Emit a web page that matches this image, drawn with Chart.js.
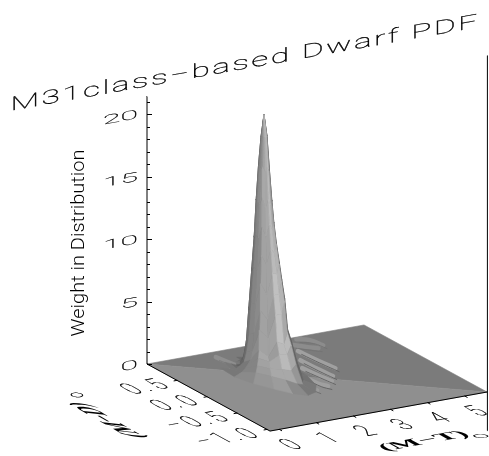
<!DOCTYPE html>
<html>
<head>
<meta charset="utf-8">
<title>M31class-based Dwarf PDF</title>
<script src="https://cdn.jsdelivr.net/npm/chart.js@4"></script>
<style>
  html, body { margin: 0; padding: 0; background: #fff; }
  canvas { display: block; }
</style>
</head>
<body>
<canvas id="surface" width="489" height="456"></canvas>
<script>
// Text labels
var titleText = "M31class\u2212based Dwarf PDF";
var weightTitle = "Weight in Distribution";
var weightTicks = [0, 5, 10, 15, 20];
var weightMinor = [1, 2, 3, 4, 6, 7, 8, 9, 11, 12, 13, 14, 16, 17, 18, 19, 21];
var mtTicks = [0, 1, 2, 3, 4, 5];
var mdTicks = [0.5, 0.0, -0.5, -1.0];
var mdLabels = ["0.5", "0.0", "\u22120.5", "\u22121.0"];

// Floor of the box, in data units
var mtRange = [-0.25, 5.6];
var mdRange = [-1.05, 1.0];
var weightRange = [0, 21.4];

// Main peak, read as rings around its centre
var peakCentre = [1.82, 0.33];
var ringMT = [0, 0.045, 0.083, 0.12, 0.15, 0.188, 0.233, 0.27, 0.315, 0.36, 0.42, 0.495, 0.6, 0.795];
var ringMD = [0, 0.041, 0.076, 0.11, 0.138, 0.173, 0.214, 0.248, 0.29, 0.331, 0.386, 0.455, 0.552, 0.731];
var spokeMT = [1, 0.92, 0.71, 0.38, 0, -0.38, -0.71, -0.92, -1, -0.92, -0.71, -0.38, 0, 0.38, 0.71, 0.92];
var spokeMD = [0, -0.38, -0.71, -0.92, -1, -0.92, -0.71, -0.38, 0, 0.38, 0.71, 0.92, 1, 0.92, 0.71, 0.38];
var peakWeights = [
  [20.6, 20.6, 20.6, 20.6, 20.6, 20.6, 20.6, 20.6, 20.6, 20.6, 20.6, 20.6, 20.6, 20.6, 20.6, 20.6],
  [18.9, 19.0, 19.0, 19.0, 19.0, 18.9, 18.9, 18.9, 18.9, 18.8, 18.8, 18.8, 18.8, 18.9, 18.9, 18.9],
  [16.4, 16.3, 16.3, 16.3, 16.4, 16.6, 16.2, 16.6, 16.3, 16.5, 16.5, 16.5, 16.5, 16.4, 16.4, 16.4],
  [13.8, 13.9, 13.9, 13.9, 13.6, 14.1, 13.4, 14.1, 13.5, 13.6, 13.6, 13.6, 13.6, 13.7, 13.7, 13.8],
  [11.7, 12.0, 12.2, 12.2, 11.8, 12.2, 11.2, 11.8, 10.8, 10.9, 10.6, 10.6, 10.8, 11.1, 11.3, 11.6],
  [9.8, 10.2, 10.6, 10.6, 10.0, 10.3, 9.0, 9.6, 8.3, 8.3, 7.9, 7.9, 8.2, 8.7, 9.1, 9.5],
  [7.8, 8.4, 9.1, 9.1, 8.4, 8.5, 6.7, 7.4, 5.6, 5.4, 4.7, 4.7, 5.1, 6.0, 6.7, 7.3],
  [6.1, 6.9, 7.8, 7.8, 6.9, 6.8, 4.8, 5.3, 3.3, 2.9, 2.0, 2.0, 2.6, 3.7, 4.6, 5.5],
  [4.6, 5.4, 6.3, 6.3, 5.4, 5.3, 3.4, 3.8, 1.9, 1.5, 0.6, 0.6, 1.2, 2.3, 3.2, 4.0],
  [2.6, 3.2, 3.9, 3.9, 3.1, 3.3, 2.0, 2.3, 1.2, 0.7, 0.1, 0.1, 0.3, 1.0, 1.5, 2.0],
  [1.9, 2.5, 3.0, 3.0, 2.4, 2.4, 1.7, 1.7, 0.9, 0.4, 0, 0, 0, 0.3, 0.7, 1.2],
  [0.9, 1.2, 1.6, 1.6, 1.3, 1.4, 1.3, 1.2, 0.6, 0.1, 0, 0, 0, 0, 0, 0.2],
  [0.1, 0.12, 0.15, 0.2, 0.5, 0.8, 0.9, 0.8, 0.3, 0, 0, 0, 0, 0, 0, 0],
  [0, 0, 0, 0, 0.05, 0.2, 0.3, 0.2, 0.05, 0, 0, 0, 0, 0, 0, 0]
];

// Low ridges around the peak: [M-T, M-D] along each crest
var ridges = [
  [[3.63, 0.91], [3.87, 0.83], [3.95, 0.66]],
  [[3.34, 0.79], [3.57, 0.68], [3.74, 0.61]],
  [[3.22, 0.63], [3.27, 0.34], [3.34, 0.08]],
  [[2.93, 0.41], [2.96, 0.10], [3.0, -0.09]],
  [[2.67, 0.22], [2.74, -0.04], [2.79, -0.2]],
  [[2.39, 0.03], [2.42, -0.19], [2.53, -0.3]],
  [[2.10, -0.21], [2.15, -0.35]],
  [[1.33, 0.83], [1.39, 0.665], [1.45, 0.5]],
  [[1.14, 0.47], [1.25, 0.33]]
];
var ridgeGreys = ["#8c8c8c", "#8c8c8c", "#a0a0a0", "#a0a0a0", "#a0a0a0", "#a0a0a0", "#9a9a9a", "#8e8e8e", "#8e8e8e"];
var ridgeEdges = ["#747474", "#747474", "#666666", "#666666", "#666666", "#666666", "#707070", "#7c7c7c", "#747474"];
var ridgeWeight = 0.15;

// View: how one unit of each data axis lands on the picture
var mtStep = [37.1, 6.67];
var mdStep = [60, 32.7];
var weightPx = 12.5;

function project(mt, md, w) {
  var a = mt - mtRange[0];
  var b = mdRange[1] - md;
  return {
    x: a * mtStep[0] + b * mdStep[0],
    y: w + (a * mtStep[1] - b * mdStep[1]) / weightPx
  };
}

// Light comes from the viewer, in box units
var light = [-0.474, -0.836, 0.279];

function boxPoint(p) {
  return [
    (p[0] - mtRange[0]) / (mtRange[1] - mtRange[0]),
    (p[1] - mdRange[0]) / (mdRange[1] - mdRange[0]),
    p[2] / weightRange[1]
  ];
}

function quadGrey(q) {
  var a = boxPoint(q[0]), b = boxPoint(q[1]), c = boxPoint(q[2]), e = boxPoint(q[3]);
  var u = [c[0] - a[0], c[1] - a[1], c[2] - a[2]];
  var v = [e[0] - b[0], e[1] - b[1], e[2] - b[2]];
  var n = [u[1] * v[2] - u[2] * v[1], u[2] * v[0] - u[0] * v[2], u[0] * v[1] - u[1] * v[0]];
  if (n[2] < 0) { n = [-n[0], -n[1], -n[2]]; }
  var len = Math.sqrt(n[0] * n[0] + n[1] * n[1] + n[2] * n[2]) || 1;
  var dot = (n[0] * light[0] + n[1] * light[1] + n[2] * light[2]) / len;
  var g = 90 + 100 * Math.pow(Math.max(0, dot), 0.95);
  return Math.round(g / 6) * 6;
}

function grey(g) {
  return "rgb(" + g + "," + g + "," + g + ")";
}

function polygon(points, colour) {
  var data = points.map(function (p) { return project(p[0], p[1], p[2]); });
  data.push(data[0]);
  return {
    data: data, showLine: true, pointRadius: 0, borderWidth: 0.6,
    borderColor: colour, backgroundColor: colour, fill: "shape", clip: false
  };
}

function stroke(points, colour, width, tension) {
  return {
    data: points.map(function (p) { return project(p[0], p[1], p[2]); }),
    showLine: true, pointRadius: 0, borderWidth: width, borderColor: colour,
    borderCapStyle: "round", fill: false, tension: tension || 0, clip: false
  };
}

// Build everything back to front
var sets = [];
var t0 = mtRange[0], t1 = mtRange[1], d0 = mdRange[0], d1 = mdRange[1];

// floor, the two triangles shade differently
sets.push(polygon([[t0, d1, 0], [t1, d1, 0], [t1, d0, 0]], "#7b7b7b"));
sets.push(polygon([[t0, d1, 0], [t0, d0, 0], [t1, d0, 0]], "#8f8f8f"));

ridges.forEach(function (r, i) {
  sets.push(stroke(r.map(function (p) { return [p[0], p[1], ridgeWeight]; }), ridgeGreys[i], 4.5, 0.4));
  sets.push(stroke(r.map(function (p) { return [p[0] + 0.02, p[1] - 0.05, 0]; }), ridgeEdges[i], 1, 0.4));
});

// peak facets, sorted along the line of sight
var facets = [];
for (var r = 0; r < ringMT.length - 1; r++) {
  for (var s = 0; s < spokeMT.length; s++) {
    var s2 = (s + 1) % spokeMT.length;
    var corner = function (ring, spoke) {
      return [
        peakCentre[0] + ringMT[ring] * spokeMT[spoke],
        peakCentre[1] + ringMD[ring] * spokeMD[spoke],
        peakWeights[ring][spoke]
      ];
    };
    var q = [corner(r, s), corner(r, s2), corner(r + 1, s2), corner(r + 1, s)];
    if (q[0][2] + q[1][2] + q[2][2] + q[3][2] === 0) { continue; }
    var depth = 0;
    q.forEach(function (p) {
      var b = boxPoint(p);
      depth += b[0] * light[0] + b[1] * light[1] + b[2] * light[2];
    });
    facets.push({ q: q, depth: depth });
  }
}
facets.sort(function (a, b) { return a.depth - b.depth; });
facets.forEach(function (f) {
  sets.push(polygon(f.q, grey(quadGrey(f.q))));
});

// box lines and axis ticks
sets.push(stroke([[t0, d1, 0], [t0, d0, 0], [t1, d0, 0]], "#000", 1));
sets.push(stroke([[t0, d1, 0], [t0, d1, weightRange[1]]], "#000", 1));
sets.push(stroke([[t1 + 0.01, d0, -3.1], [t1 + 0.01, d0, 26.9]], "#000", 1));
mtTicks.forEach(function (t) {
  sets.push(stroke([[t, d0, 0], [t, d0 - 0.04, 0]], "#000", 1));
});
mdTicks.forEach(function (d) {
  sets.push(stroke([[t0, d, 0], [t0 - 0.08, d, 0]], "#000", 1));
});

sets.forEach(function (ds, i) { ds.order = sets.length - i; });

// Axis text lies in the tilted planes of the box, so it gets a skewed transform
function skewText(ctx, str, x, y, base, down, font, spacing, align, line) {
  ctx.save();
  ctx.setTransform(base[0], base[1], down[0], down[1], x, y);
  ctx.font = font;
  ctx.letterSpacing = (spacing || 0) + "px";
  ctx.textAlign = align || "center";
  ctx.textBaseline = "middle";
  ctx.fillStyle = "#000";
  ctx.fillText(str, 0, 0);
  if (line) {
    ctx.strokeStyle = "#000";
    ctx.lineWidth = line;
    ctx.strokeText(str, 0, 0);
  }
  ctx.restore();
}

var thinFont = "100 20px Roboto";
var floorBase = [1.1, -0.2];
var floorDown = [1.19, 0.65];

var axisText = {
  id: "axisText",
  afterDatasetsDraw: function (chart) {
    var ctx = chart.ctx;
    var sx = chart.scales.x, sy = chart.scales.y;
    var px = function (p) { return [sx.getPixelForValue(p.x), sy.getPixelForValue(p.y)]; };

    // inward ticks on the weight axis
    ctx.save();
    ctx.strokeStyle = "#000";
    ctx.lineWidth = 1;
    var axisX = px(project(t0, d1, 0))[0];
    weightTicks.concat(weightMinor).forEach(function (v) {
      var yy = Math.round(sy.getPixelForValue(v)) + 0.5;
      var len = weightTicks.indexOf(v) >= 0 ? 5 : 3;
      ctx.beginPath();
      ctx.moveTo(axisX, yy);
      ctx.lineTo(axisX + len, yy);
      ctx.stroke();
    });
    ctx.restore();

    weightTicks.forEach(function (v) {
      skewText(ctx, String(v), axisX - 9, sy.getPixelForValue(v) + 1, [1.6, -0.29], [0, 0.62], thinFont, 0, "right", 0.3);
    });
    mtTicks.forEach(function (t) {
      var p = px(project(t, d0, 0));
      skewText(ctx, String(t), p[0] + 13, p[1] + 16, floorBase, floorDown, thinFont, 0, "center", 0.3);
    });
    mdTicks.forEach(function (d, i) {
      var p = px(project(t0, d, 0));
      skewText(ctx, mdLabels[i], p[0] - 8, p[1] + 3, floorBase, floorDown, thinFont, 4, "right", 0.3);
    });

    skewText(ctx, titleText, 245, 64, [1.68, -0.3], [0, 0.95], thinFont, 1.4, "center", 0.3);

    // weight title stands upright along the axis
    skewText(ctx, weightTitle, 79, 243, [0, -1.0], [0.92, 0], "300 20px Roboto", 0);

    var serif = "bold 20px 'Liberation Serif'";
    skewText(ctx, "(M\u2212T)", 424, 441, [1.5, -0.27], [0.8, 0.44], serif, 0);
    skewText(ctx, "o", 481, 436, [1.4, -0.12], [0.55, 0.3], thinFont, 0, "center", 0.4);
    skewText(ctx, "(M\u2212D)", 108, 420, [-1.05, -0.6], [1.6, 0.16], serif, 0);
    skewText(ctx, "o", 77, 395, [1.3, 0.1], [-0.05, 0.4], thinFont, 0, "center", 0.4);
  }
};

var chart = new Chart(document.getElementById("surface").getContext("2d"), {
  type: "scatter",
  data: { datasets: sets },
  plugins: [axisText],
  options: {
    responsive: false,
    animation: false,
    events: [],
    layout: { padding: 0 },
    plugins: { legend: { display: false }, title: { display: false }, tooltip: { enabled: false } },
    scales: {
      x: { type: "linear", display: false, min: -147, max: 342 },
      y: { type: "linear", display: false, min: -7.36, max: 29.12 }
    }
  }
});
</script>
</body>
</html>
